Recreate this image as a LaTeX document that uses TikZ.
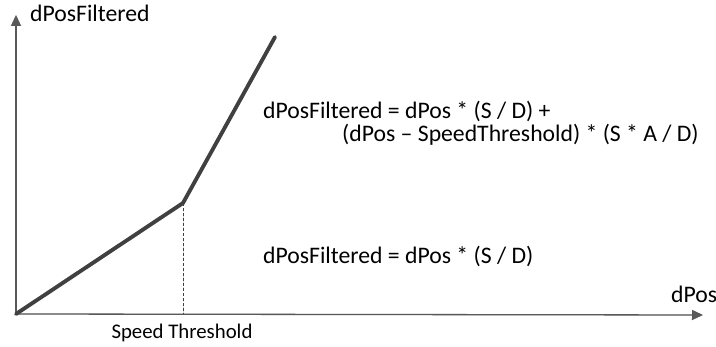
\documentclass[tikz,border=0pt]{standalone}
\usepackage{fontspec}
\setmainfont{Carlito}
\usetikzlibrary{arrows.meta}
\definecolor{axisgray}{HTML}{595959}
\definecolor{curvegray}{HTML}{404040}
\definecolor{shadowgray}{HTML}{DDDDDD}
\begin{document}
\begin{tikzpicture}[x=1pt,y=1pt,
  axis/.style={draw=axisgray,line width=1.3pt,-{Triangle[length=11pt,width=10pt]}},
  axisshadow/.style={draw=shadowgray,line width=1.3pt,-{Triangle[length=11pt,width=10pt]}},
  curve/.style={draw=curvegray,line width=3.8pt,line cap=round,line join=round},
  curveshadow/.style={draw=shadowgray,line width=3.8pt,line cap=round,line join=round},
  lbl/.style={font=\fontsize{23.7}{28}\selectfont,text=black,inner sep=0pt,anchor=base west},
  smalllbl/.style={font=\fontsize{20.8}{24}\selectfont,text=black,inner sep=0pt,anchor=base}]
\useasboundingbox (0,0) rectangle (716,347);
\coordinate (O) at (16,33);
\coordinate (ytip) at (16,332);
\coordinate (xtip) at (703,32);
\coordinate (K) at (183,144);
\coordinate (T) at (275,310);
\coordinate (Kb) at (183,33);
% shadows
\begin{scope}[shift={(3,-3)}]
  \draw[axisshadow] (O) -- (ytip);
  \draw[axisshadow] (O) -- (xtip);
  \draw[curveshadow] (O) -- (K) -- (T);
  \draw[draw=shadowgray,line width=0.8pt,dashed] (K) -- (Kb);
\end{scope}
% axes
\draw[axis] (O) -- (ytip);
\draw[axis] (O) -- (xtip);
% dashed threshold
\draw[draw=curvegray,line width=0.8pt,dash pattern=on 3pt off 2pt] (K) -- (Kb);
% curve
\draw[curve] (O) -- (K) -- (T);
% labels
\node[lbl] (ylab) at (30,325) {dPosFiltered};
\node[lbl] (xlab) at (671,44) {dPos};
\node[smalllbl] (thr) at (182,8) {Speed Threshold};
\node[lbl] (f1) at (263,228) {dPosFiltered = dPos * (S / D) +};
\node[lbl] (f2) at (342,205) {(dPos – SpeedThreshold) * (S * A / D)};
\node[lbl] (f3) at (263,83) {dPosFiltered = dPos * (S / D)};
\end{tikzpicture}
\end{document}
